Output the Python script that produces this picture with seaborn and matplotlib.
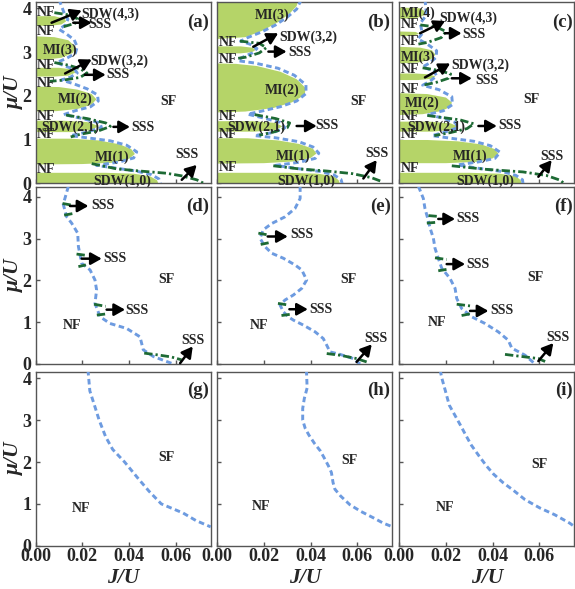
import matplotlib
matplotlib.use("Agg")
import pandas as pd
import matplotlib.pyplot as plt
import seaborn as sns

# ---------------- data (J/U, mu/U) ----------------
# panel (a)
A_LOBES = [
    [(0, 0.24), (0.030, 0.24), (0.042, 0.22), (0.049, 0.16), (0.052, 0.07), (0.0525, 0.0), (0, 0.0)],
    [(0, 0.43), (0.020, 0.44), (0.033, 0.47), (0.040, 0.56), (0.0425, 0.67), (0.041, 0.78), (0.036, 0.89), (0.027, 0.98), (0.015, 1.02), (0, 1.02)],
    [(0, 1.17), (0.015, 1.17), (0.024, 1.22), (0.027, 1.31), (0.022, 1.40), (0.012, 1.43), (0, 1.43)],
    [(0, 1.64), (0.009, 1.65), (0.018, 1.70), (0.024, 1.80), (0.026, 1.92), (0.024, 2.04), (0.018, 2.14), (0.010, 2.20), (0, 2.21)],
    [(0, 2.44), (0.008, 2.44), (0.014, 2.46), (0.017, 2.53), (0.016, 2.60), (0.010, 2.64), (0, 2.64)],
    [(0, 2.82), (0.005, 2.83), (0.011, 2.87), (0.016, 2.98), (0.017, 3.12), (0.014, 3.27), (0.008, 3.34), (0, 3.36)],
    [(0, 3.60), (0.006, 3.60), (0.011, 3.63), (0.013, 3.70), (0.0125, 3.76), (0.008, 3.82), (0, 3.82)],
]
A_ENV = [(0.010, 4.20), (0.012, 3.92), (0.0138, 3.75), (0.0128, 3.62), (0.010, 3.52), (0.013, 3.42),
         (0.0165, 3.28), (0.0178, 3.12), (0.017, 2.97), (0.013, 2.85), (0.009, 2.76), (0.012, 2.69),
         (0.0168, 2.60), (0.0178, 2.52), (0.015, 2.43), (0.011, 2.36), (0.016, 2.28), (0.022, 2.16),
         (0.0265, 2.02), (0.0268, 1.88), (0.0235, 1.75), (0.017, 1.66), (0.012, 1.57), (0.020, 1.48),
         (0.0275, 1.38), (0.0282, 1.27), (0.021, 1.16), (0.015, 1.09), (0.022, 1.04), (0.032, 0.97),
         (0.039, 0.87), (0.0433, 0.72), (0.042, 0.58), (0.036, 0.49), (0.026, 0.41), (0.034, 0.35),
         (0.043, 0.28), (0.0495, 0.20), (0.0528, 0.10), (0.0535, 0.0)]
A_DD = [
    [(0.008, 3.90), (0.014, 3.85), (0.018, 3.76), (0.017, 3.66), (0.012, 3.58)],
    [(0.008, 2.76), (0.014, 2.70), (0.019, 2.62), (0.022, 2.52), (0.019, 2.42), (0.012, 2.36), (0.006, 2.33)],
    [(0.013, 1.56), (0.022, 1.48), (0.030, 1.38), (0.032, 1.30), (0.027, 1.20), (0.019, 1.12), (0.015, 1.06)],
    [(0.024, 0.45), (0.0347, 0.33), (0.0447, 0.28), (0.056, 0.23), (0.0626, 0.17), (0.069, 0.08), (0.072, 0.0)],
]
A_TEXT = [("NF", 0, 3.90), ("NF", 0, 3.47), ("NF", 0, 2.70), ("NF", 0, 2.28), ("NF", 0, 1.52),
          ("NF", 0, 1.11), ("NF", 0, 0.31), ("MI(3)", 0.0104, 3.05), ("MI(2)", 0.0169, 1.91),
          ("MI(1)", 0.0326, 0.60), ("SDW(1,0)", 0.037, 0.05), ("SDW(2,1)", 0.015, 1.29),
          ("SDW(3,2)", 0.036, 2.80), ("SSS", 0.0354, 2.48), ("SDW(4,3)", 0.0318, 3.86),
          ("SSS", 0.0276, 3.64), ("SSS", 0.0461, 1.27), ("SSS", 0.0648, 0.65), ("SF", 0.0568, 1.87)]
A_ARROWS = [(0.0126, 2.51, 0.0240, 2.83), (0.0211, 2.48, 0.0300, 2.48), (0.0068, 3.67, 0.0197, 3.95),
            (0.0161, 3.67, 0.0240, 3.67), (0.0333, 1.29, 0.0404, 1.29), (0.0626, 0.08, 0.0690, 0.42)]

# panel (b)
B_LOBES = [
    [(0, 0.24), (0.030, 0.24), (0.043, 0.22), (0.050, 0.16), (0.052, 0.07), (0.0525, 0.0), (0, 0.0)],
    [(0, 0.45), (0.020, 0.46), (0.033, 0.50), (0.040, 0.58), (0.0425, 0.68), (0.041, 0.79), (0.035, 0.90), (0.026, 0.98), (0.013, 1.03), (0, 1.03)],
    [(0, 1.18), (0.016, 1.18), (0.025, 1.22), (0.028, 1.30), (0.025, 1.38), (0.015, 1.42), (0, 1.42)],
    [(0, 1.62), (0.012, 1.64), (0.024, 1.72), (0.032, 1.85), (0.0375, 2.02), (0.0378, 2.18), (0.034, 2.38), (0.027, 2.55), (0.017, 2.68), (0.008, 2.73), (0, 2.74)],
    [(0, 2.97), (0.010, 2.97), (0.015, 3.00), (0.0165, 3.05), (0.015, 3.10), (0.010, 3.13), (0, 3.13)],
    [(0, 3.30), (0.012, 3.34), (0.019, 3.48), (0.026, 3.68), (0.031, 3.88), (0.034, 4.05), (0.035, 4.25), (0, 4.25)],
]
B_ENV = [(0.036, 4.20), (0.034, 3.98), (0.030, 3.80), (0.025, 3.62), (0.019, 3.46), (0.013, 3.33),
         (0.010, 3.25), (0.014, 3.18), (0.017, 3.08), (0.015, 2.98), (0.010, 2.86), (0.009, 2.80),
         (0.016, 2.75), (0.026, 2.63), (0.033, 2.47), (0.038, 2.25), (0.038, 2.05), (0.034, 1.88),
         (0.027, 1.75), (0.019, 1.65), (0.013, 1.58), (0.020, 1.49), (0.027, 1.39), (0.029, 1.27),
         (0.024, 1.16), (0.016, 1.09), (0.025, 1.04), (0.035, 0.95), (0.041, 0.83), (0.0435, 0.69),
         (0.042, 0.57), (0.035, 0.48), (0.025, 0.41), (0.034, 0.34), (0.044, 0.27), (0.050, 0.19),
         (0.053, 0.09), (0.0535, 0.0)]
B_DD = [
    [(0.0097, 3.25), (0.018, 3.20), (0.021, 3.10), (0.018, 2.98), (0.012, 2.88), (0.008, 2.85)],
    [(0.016, 1.57), (0.025, 1.48), (0.031, 1.38), (0.030, 1.27), (0.024, 1.17), (0.018, 1.10)],
    [(0.024, 0.40), (0.035, 0.33), (0.047, 0.28), (0.058, 0.22), (0.066, 0.13), (0.071, 0.03)],
]
B_TEXT = [("MI(3)", 0.0234, 3.85), ("NF", 0, 3.22), ("NF", 0, 2.82), ("NF", 0, 1.52), ("NF", 0, 1.11),
          ("NF", 0, 0.36), ("SDW(3,2)", 0.039, 3.34), ("SSS", 0.0354, 3.0), ("MI(2)", 0.0276, 2.13),
          ("SF", 0.0604, 1.87), ("SDW(2,1)", 0.0169, 1.29), ("SSS", 0.0469, 1.31), ("MI(1)", 0.0326, 0.62),
          ("SSS", 0.0683, 0.67), ("SDW(1,0)", 0.0383, 0.05)]
B_ARROWS = [(0.0154, 3.12, 0.0261, 3.43), (0.0219, 3.01, 0.0297, 3.01), (0.0340, 1.31, 0.0426, 1.31),
            (0.0626, 0.11, 0.0683, 0.53)]

# panel (c)
C_LOBES = [
    [(0, 0.24), (0.030, 0.24), (0.043, 0.22), (0.050, 0.16), (0.052, 0.07), (0.0525, 0.0), (0, 0.0)],
    [(0, 0.46), (0.020, 0.46), (0.033, 0.49), (0.040, 0.57), (0.0425, 0.67), (0.041, 0.78), (0.035, 0.89), (0.025, 0.96), (0.012, 0.99), (0, 0.99)],
    [(0, 1.18), (0.014, 1.18), (0.022, 1.22), (0.025, 1.30), (0.022, 1.37), (0.013, 1.41), (0, 1.41)],
    [(0, 1.56), (0.010, 1.58), (0.018, 1.65), (0.022, 1.75), (0.0225, 1.85), (0.020, 1.96), (0.012, 2.04), (0, 2.06)],
    [(0, 2.36), (0.008, 2.36), (0.014, 2.39), (0.0155, 2.44), (0.013, 2.49), (0.007, 2.51), (0, 2.51)],
    [(0, 2.74), (0.008, 2.76), (0.0135, 2.83), (0.0155, 2.94), (0.014, 3.04), (0.009, 3.10), (0, 3.12)],
    [(0, 3.36), (0.006, 3.37), (0.0085, 3.42), (0.007, 3.46), (0, 3.47)],
    [(0, 3.76), (0.007, 3.77), (0.0105, 3.84), (0.011, 3.93), (0.009, 4.00), (0, 4.02)],
]
C_ENV = [(0.011, 4.20), (0.0115, 3.95), (0.011, 3.80), (0.009, 3.66), (0.0095, 3.52), (0.0098, 3.42),
         (0.008, 3.30), (0.012, 3.18), (0.016, 3.03), (0.0158, 2.88), (0.013, 2.75), (0.010, 2.66),
         (0.015, 2.56), (0.016, 2.45), (0.013, 2.33), (0.010, 2.24), (0.017, 2.14), (0.0225, 1.98),
         (0.0228, 1.80), (0.019, 1.66), (0.012, 1.57), (0.018, 1.50), (0.024, 1.39), (0.025, 1.27),
         (0.019, 1.16), (0.014, 1.09), (0.022, 1.03), (0.032, 0.96), (0.039, 0.86), (0.0432, 0.71),
         (0.041, 0.57), (0.034, 0.49), (0.025, 0.42), (0.033, 0.35), (0.044, 0.27), (0.050, 0.18),
         (0.0528, 0.08), (0.053, 0.0)]
C_DD = [
    [(0.009, 3.62), (0.016, 3.57), (0.020, 3.47), (0.018, 3.33), (0.012, 3.22), (0.008, 3.18)],
    [(0.010, 2.64), (0.017, 2.58), (0.022, 2.50), (0.021, 2.40), (0.016, 2.31), (0.010, 2.24)],
    [(0.012, 1.55), (0.026, 1.45), (0.032, 1.36), (0.029, 1.25), (0.022, 1.16), (0.015, 1.09)],
    [(0.0225, 0.40), (0.037, 0.32), (0.053, 0.26), (0.063, 0.18), (0.069, 0.07), (0.0705, 0.0)],
]
C_TEXT = [("MI(4)", 0, 3.88), ("NF", 0, 3.62), ("NF", 0, 3.24), ("MI(3)", 0, 2.88), ("NF", 0, 2.59),
          ("NF", 0, 2.15), ("MI(2)", 0.0099, 1.83), ("NF", 0, 1.52), ("SDW(2,1)", 0.016, 1.29),
          ("NF", 0, 1.11), ("MI(1)", 0.0304, 0.62), ("NF", 0, 0.33), ("SDW(1,0)", 0.0367, 0.05),
          ("SDW(4,3)", 0.0296, 3.77), ("SSS", 0.0320, 3.39), ("SDW(3,2)", 0.0346, 2.70),
          ("SSS", 0.0375, 2.36), ("SSS", 0.0475, 1.31), ("SSS", 0.0653, 0.62), ("SF", 0.0567, 1.92)]
C_ARROWS = [(0.0089, 3.43, 0.0196, 3.71), (0.0196, 3.43, 0.0267, 3.43), (0.0110, 2.42, 0.0218, 2.74),
            (0.0225, 2.40, 0.0311, 2.40), (0.0339, 1.31, 0.0418, 1.31), (0.0596, 0.15, 0.0653, 0.53)]

# panel (d)
D_ENV = [(0.0140, 4.25), (0.0118, 3.82), (0.0133, 3.52), (0.0154, 3.37), (0.0180, 3.13), (0.0183, 2.81),
         (0.0197, 2.41), (0.0233, 2.25), (0.0254, 2.01), (0.0261, 1.77), (0.0254, 1.45), (0.0276, 1.13),
         (0.0318, 0.97), (0.0390, 0.85), (0.0447, 0.65), (0.0461, 0.34), (0.0504, 0.18), (0.0561, 0.06),
         (0.0590, 0.0)]
D_DD = [[(0.0115, 3.84), (0.0155, 3.80)], [(0.0122, 3.56), (0.0160, 3.60)],
        [(0.0175, 2.63), (0.0215, 2.60)], [(0.0183, 2.33), (0.0215, 2.37)],
        [(0.0250, 1.43), (0.0300, 1.38)], [(0.0262, 1.17), (0.0305, 1.20)],
        [(0.0465, 0.26), (0.052, 0.22), (0.058, 0.17), (0.0625, 0.10)]]
D_TEXT = [("SSS", 0.0290, 3.80), ("SSS", 0.0340, 2.52), ("SSS", 0.0433, 1.29), ("SSS", 0.0676, 0.57),
          ("SF", 0.0561, 2.01), ("NF", 0.0154, 0.93)]
D_ARROWS = [(0.0147, 3.78, 0.0226, 3.78), (0.0197, 2.52, 0.0283, 2.52), (0.0304, 1.30, 0.0383, 1.30),
            (0.0619, 0.02, 0.0673, 0.42)]

# panel (e)
E_ENV = [(0.0355, 4.25), (0.0355, 3.96), (0.0333, 3.72), (0.0290, 3.52), (0.0233, 3.36), (0.0197, 3.21),
         (0.0183, 3.01), (0.0204, 2.81), (0.0233, 2.65), (0.0283, 2.53), (0.0333, 2.37), (0.0362, 2.25),
         (0.0383, 2.01), (0.0362, 1.81), (0.0326, 1.65), (0.0290, 1.53), (0.0269, 1.41), (0.0283, 1.25),
         (0.0304, 1.13), (0.0326, 1.05), (0.0369, 0.93), (0.0419, 0.77), (0.0454, 0.61), (0.0469, 0.45),
         (0.0483, 0.29), (0.0526, 0.23), (0.0583, 0.13), (0.0612, 0.0)]
E_DD = [[(0.0176, 3.13), (0.0215, 3.09)], [(0.0186, 2.86), (0.0220, 2.90)],
        [(0.0260, 1.45), (0.0305, 1.41)], [(0.0275, 1.16), (0.0315, 1.19)],
        [(0.0469, 0.25), (0.0526, 0.21), (0.0597, 0.13), (0.0640, 0.05)]]
E_TEXT = [("SSS", 0.0362, 3.09), ("SSS", 0.0445, 1.31), ("SSS", 0.0680, 0.61), ("SF", 0.0562, 2.01),
          ("NF", 0.0180, 0.92)]
E_ARROWS = [(0.0216, 3.05, 0.0302, 3.05), (0.0309, 1.31, 0.0388, 1.31), (0.0597, 0.05, 0.0662, 0.47)]

# panel (f)
F_ENV = [(0.0082, 4.25), (0.0103, 3.96), (0.0110, 3.72), (0.0122, 3.48), (0.0132, 3.25), (0.0146, 3.01),
         (0.0153, 2.77), (0.0167, 2.53), (0.0182, 2.29), (0.0217, 2.05), (0.0239, 1.81), (0.0246, 1.57),
         (0.0267, 1.33), (0.0310, 1.13), (0.0367, 0.97), (0.0424, 0.77), (0.0467, 0.57), (0.0482, 0.38),
         (0.0539, 0.21), (0.0582, 0.0)]
F_DD = [[(0.0125, 3.55), (0.0167, 3.53)], [(0.0118, 3.37), (0.0160, 3.39)],
        [(0.0153, 2.54), (0.0203, 2.50)], [(0.0167, 2.23), (0.0210, 2.27)],
        [(0.0246, 1.43), (0.0303, 1.39)], [(0.0267, 1.16), (0.0303, 1.20)],
        [(0.0453, 0.23), (0.0524, 0.18), (0.0596, 0.13), (0.0625, 0.06)]]
F_TEXT = [("SSS", 0.0296, 3.49), ("SSS", 0.0339, 2.39), ("SSS", 0.0439, 1.27), ("SSS", 0.0679, 0.63),
          ("SF", 0.0582, 2.07), ("NF", 0.0160, 1.00)]
F_ARROWS = [(0.0167, 3.47, 0.0239, 3.47), (0.0203, 2.39, 0.0282, 2.39), (0.0303, 1.27, 0.0382, 1.27),
            (0.0596, 0.07, 0.0660, 0.50)]

# panels (g), (h), (i)
G_ENV = [(0.0224, 4.20), (0.0232, 3.70), (0.0255, 3.30), (0.0272, 3.00), (0.0300, 2.60), (0.0330, 2.30),
         (0.0381, 2.00), (0.0440, 1.60), (0.0486, 1.30), (0.0538, 1.00), (0.0632, 0.78), (0.0687, 0.60),
         (0.0750, 0.45)]
H_ENV = [(0.0382, 4.20), (0.0385, 3.77), (0.0373, 3.52), (0.0366, 3.28), (0.0366, 3.00), (0.0377, 2.80),
         (0.0393, 2.64), (0.0417, 2.44), (0.0441, 2.27), (0.0457, 2.11), (0.0476, 1.91), (0.0489, 1.75),
         (0.0496, 1.51), (0.0504, 1.35), (0.0528, 1.19), (0.0568, 0.98), (0.0615, 0.82), (0.0671, 0.66),
         (0.0711, 0.54), (0.0747, 0.46)]
I_ENV = [(0.0175, 4.20), (0.0182, 4.01), (0.0198, 3.69), (0.0214, 3.36), (0.0238, 3.12), (0.0262, 2.88),
         (0.0285, 2.64), (0.0309, 2.40), (0.0341, 2.15), (0.0373, 1.91), (0.0404, 1.71), (0.0444, 1.51),
         (0.0492, 1.31), (0.0539, 1.10), (0.0603, 0.90), (0.0666, 0.74), (0.0730, 0.54), (0.0745, 0.48)]
G_TEXT = [("SF", 0.0562, 2.10), ("NF", 0.0196, 0.90)]
H_TEXT = [("SF", 0.0568, 2.03), ("NF", 0.0187, 0.94)]
I_TEXT = [("SF", 0.0600, 1.93), ("NF", 0.0198, 0.92)]

PANEL_NAMES = ["(a)", "(b)", "(c)", "(d)", "(e)", "(f)", "(g)", "(h)", "(i)"]
X_TICKS = [0.0, 0.02, 0.04, 0.06]
Y_TICKS = [0, 1, 2, 3, 4]

# ---------------- style ----------------
sns.set_style("ticks")
plt.rcParams["font.family"] = ["Liberation Serif", "DejaVu Serif"]
plt.rcParams["font.weight"] = "bold"
plt.rcParams["axes.edgecolor"] = "#555555"
plt.rcParams["axes.linewidth"] = 1.0

FILL = "#b5d468"
BLUE = "#6d9be0"
DARK = "#1d6a34"

W, H = 575, 589
COL_LEFT = [35.7, 217.3, 399.3]
COL_W = 175.0
ROWS = [(2.0, 183.3), (187.3, 364.0), (371.7, 545.7)]
ROW_YMAX = [4.144, 4.227, 4.158]

fig = plt.figure(figsize=(W / 100, H / 100), dpi=100)


def curve(ax, pts, **kw):
    df = pd.DataFrame(pts, columns=["J", "mu"])
    sns.lineplot(data=df, x="J", y="mu", sort=False, estimator=None, ax=ax,
                 legend=False, **kw)


panels = [
    (A_LOBES, A_ENV, A_DD, A_TEXT, A_ARROWS),
    (B_LOBES, B_ENV, B_DD, B_TEXT, B_ARROWS),
    (C_LOBES, C_ENV, C_DD, C_TEXT, C_ARROWS),
    ([], D_ENV, D_DD, D_TEXT, D_ARROWS),
    ([], E_ENV, E_DD, E_TEXT, E_ARROWS),
    ([], F_ENV, F_DD, F_TEXT, F_ARROWS),
    ([], G_ENV, [], G_TEXT, []),
    ([], H_ENV, [], H_TEXT, []),
    ([], I_ENV, [], I_TEXT, []),
]

for k, (lobes, env, dd, texts, arrows) in enumerate(panels):
    r, c = divmod(k, 3)
    top, bot = ROWS[r]
    ax = fig.add_axes([COL_LEFT[c] / W, 1 - bot / H, COL_W / W, (bot - top) / H])

    for lobe in lobes:
        lj, lm = zip(*lobe)
        ax.fill(lj, lm, color=FILL, lw=0, zorder=1)

    curve(ax, env, color=BLUE, lw=2.1, linestyle=(0, (1.9, 1.2)), zorder=3)
    for seg in dd:
        curve(ax, seg, color=DARK, lw=2.0, linestyle=(0, (3.0, 1.1, 0.8, 1.1)), zorder=4)

    for (lab, j, m) in texts:
        if j == 0:
            ax.text(0.0006, m, lab, ha="left", va="center", fontsize=10,
                    fontweight="bold", zorder=6)
        else:
            ax.text(j, m, lab, ha="center", va="center", fontsize=10,
                    fontweight="bold", zorder=6)

    for (j0, m0, j1, m1) in arrows:
        ax.annotate("", xy=(j1, m1), xytext=(j0, m0),
                    arrowprops=dict(arrowstyle="-|>,head_length=0.5,head_width=0.28",
                                    color="black", lw=1.8, shrinkA=0, shrinkB=0,
                                    mutation_scale=13), zorder=7)

    ax.text(0.99, 0.89, PANEL_NAMES[k], transform=ax.transAxes, ha="right",
            va="center", fontsize=13.5, fontweight="bold", zorder=8)

    ax.set_xlim(0, 0.075)
    ax.set_ylim(0, ROW_YMAX[r])
    ax.set_xticks(X_TICKS)
    ax.set_yticks(Y_TICKS)
    ax.set_xlabel("")
    ax.set_ylabel("")
    ax.tick_params(direction="in", length=3, width=1.0, color="#555555",
                   labelsize=13, top=False, right=False)
    ax.tick_params(axis="x", pad=1.5)
    ax.tick_params(axis="y", pad=3)
    if r == 2:
        ax.set_xticklabels([f"{t:.2f}" for t in X_TICKS], fontweight="bold")
    else:
        ax.set_xticklabels([])
    if c == 0:
        ax.set_yticklabels([str(t) for t in Y_TICKS], fontweight="bold")
    else:
        ax.set_yticklabels([])
    for s in ax.spines.values():
        s.set_visible(True)

    if c == 0:
        fig.text(14 / W, 1 - (top + bot) / 2 / H, "μ/U", rotation=90, ha="center",
                 va="center", fontsize=15.5, fontweight="bold", fontstyle="italic")
    if r == 2:
        fig.text((COL_LEFT[c] + COL_W / 2) / W, 1 - 578 / H, "J/U", ha="center",
                 va="center", fontsize=15.5, fontweight="bold", fontstyle="italic")

fig.savefig("out.png", dpi=100)
